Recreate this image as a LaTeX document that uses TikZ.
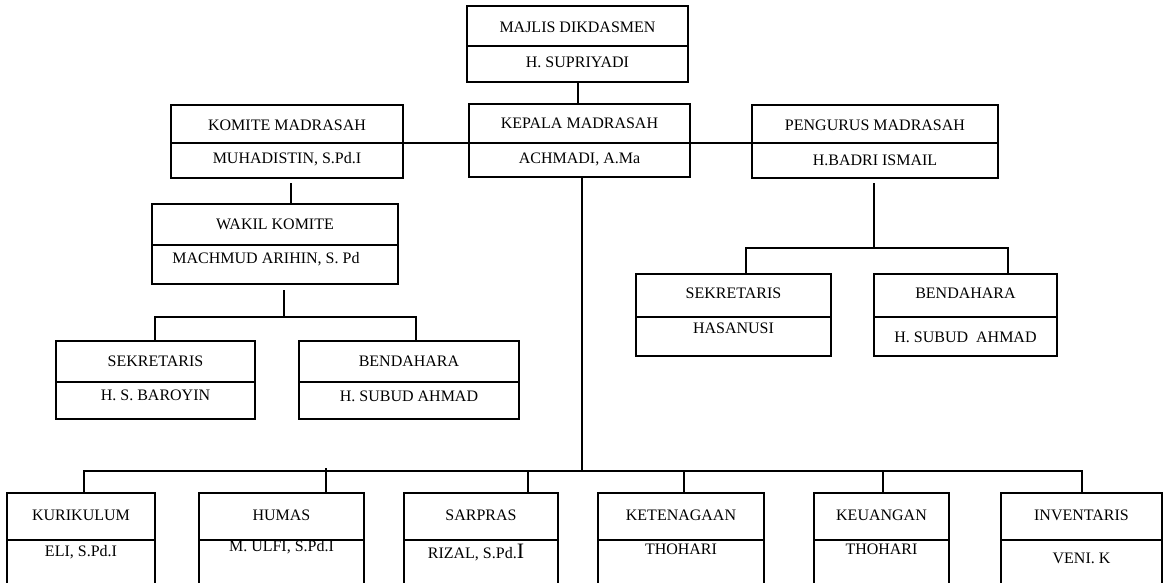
\documentclass[tikz,border=0pt]{standalone}
\usepackage{fontspec}
\setmainfont{Liberation Serif}
\tikzset{
  obox/.style={draw=black, line width=1.6pt, inner sep=0pt, outer sep=0pt, rectangle},
  conn/.style={draw=black, line width=1.6pt},
  txt/.style={inner sep=0pt, font=\fontsize{16}{19}\selectfont, text=black},
}
\newcommand\orgbox[6]{%
  \node[obox, minimum width={(#4-#2)*1pt}, minimum height={(#5-#3)*1pt}] (#1) at ({(#2+#4)/2},{(#3+#5)/2}) {};
  \draw[conn] (#1.west |- 0,#6) -- (#1.east |- 0,#6);
}
\begin{document}
\begin{tikzpicture}[x=1pt,y=-1pt]
\useasboundingbox (0,0) rectangle (1171,582);
\clip (0,0) rectangle (1171,582);
\fill[white] (0,0) rectangle (1171,582);
% boxes
\orgbox{majlis}{467}{6}{688}{82}{46}
\orgbox{kepala}{469}{104}{690}{177}{143}
\orgbox{komite}{171}{105}{403}{178}{143}
\orgbox{wakil}{152}{204}{398}{284}{245}
\orgbox{pengurus}{752}{105}{998}{178}{143}
\orgbox{lsek}{56}{341}{255}{419}{382}
\orgbox{lben}{299}{341}{519}{419}{382}
\orgbox{rsek}{636}{274}{831}{356}{317}
\orgbox{rben}{874}{274}{1057}{356}{317}
\orgbox{kur}{7}{493}{155}{610}{540}
\orgbox{hum}{199}{493}{364}{610}{540}
\orgbox{sar}{404}{493}{558}{610}{540}
\orgbox{ket}{598}{493}{764}{610}{540}
\orgbox{keu}{814}{493}{949}{610}{540}
\orgbox{inv}{1001}{493}{1162}{610}{540}
% texts
\node[txt] (majlisA) at (577.5,27) {MAJLIS DIKDASMEN};
\node[txt] (majlisB) at (577.5,62) {H. SUPRIYADI};
\node[txt] (kepalaA) at (579.5,123) {KEPALA MADRASAH};
\node[txt] (kepalaB) at (579.5,159) {ACHMADI, A.Ma};
\node[txt] (komiteA) at (287,125) {KOMITE MADRASAH};
\node[txt] (komiteB) at (287,159) {MUHADISTIN, S.Pd.I};
\node[txt] (wakilA) at (275,224) {WAKIL KOMITE};
\node[txt] (wakilB) at (266,259) {MACHMUD ARIHIN, S. Pd};
\node[txt] (pengurusA) at (875,125) {PENGURUS MADRASAH};
\node[txt] (pengurusB) at (875,160) {H.BADRI ISMAIL};
\node[txt] (lsekA) at (155.5,361) {SEKRETARIS};
\node[txt] (lsekB) at (155.5,395) {H. S. BAROYIN};
\node[txt] (lbenA) at (409,361) {BENDAHARA};
\node[txt] (lbenB) at (409,396) {H. SUBUD AHMAD};
\node[txt] (rsekA) at (733.5,293) {SEKRETARIS};
\node[txt] (rsekB) at (733.5,328) {HASANUSI};
\node[txt] (rbenA) at (965.5,293) {BENDAHARA};
\node[txt] (rbenB) at (965.5,337) {H. SUBUD\ \ AHMAD};
\node[txt] (kurA) at (81,515) {KURIKULUM};
\node[txt] (kurB) at (81,552) {ELI, S.Pd.I};
\node[txt] (humA) at (281.5,515) {HUMAS};
\node[txt] (humB) at (281.5,547) {M. ULFI, S.Pd.I};
\node[txt] (sarA) at (481,515) {SARPRAS};
\node[txt, anchor=base] (sarB) at (476,558) {RIZAL, S.Pd.{\fontsize{22}{22}\selectfont I}};
\node[txt] (ketA) at (681,515) {KETENAGAAN};
\node[txt] (ketB) at (681,549) {THOHARI};
\node[txt] (keuA) at (881.5,515) {KEUANGAN};
\node[txt] (keuB) at (881.5,549) {THOHARI};
\node[txt] (invA) at (1081.5,515) {INVENTARIS};
\node[txt] (invB) at (1081.5,558) {VENI. K};
% connectors
\coordinate (kbar) at (582,471);
\coordinate (wbar) at (284,317);
\coordinate (pbar) at (874,248);
\draw[conn] (majlis.south -| 578,0) -- (kepala.north -| 578,0);
\draw[conn] (komite.east |- 0,143) -- (pengurus.west |- 0,143);
\draw[conn] (291,183) -- (wakil.north -| 291,0);
% wakil subtree
\draw[conn] (284,290) -- (wbar);
\draw[conn] (lsek.north -| 155,0) -- (155,317) -- (416,317) -- (lben.north -| 416,0);
% pengurus subtree
\draw[conn] (874,183) -- (pbar);
\draw[conn] (rsek.north -| 746,0) -- (746,248) -- (1008,248) -- (rben.north -| 1008,0);
% kepala subtree
\draw[conn] (kepala.south -| 582,0) -- (kbar);
\draw[conn] (kur.north -| 84,0) -- (84,471) -- (1082,471) -- (inv.north -| 1082,0);
\draw[conn] (hum.north -| 326,0) -- (326,468);
\draw[conn] (sar.north -| 528,0) -- (528,471);
\draw[conn] (ket.north -| 684,0) -- (684,471);
\draw[conn] (keu.north -| 883,0) -- (883,471);
\end{tikzpicture}
\end{document}
